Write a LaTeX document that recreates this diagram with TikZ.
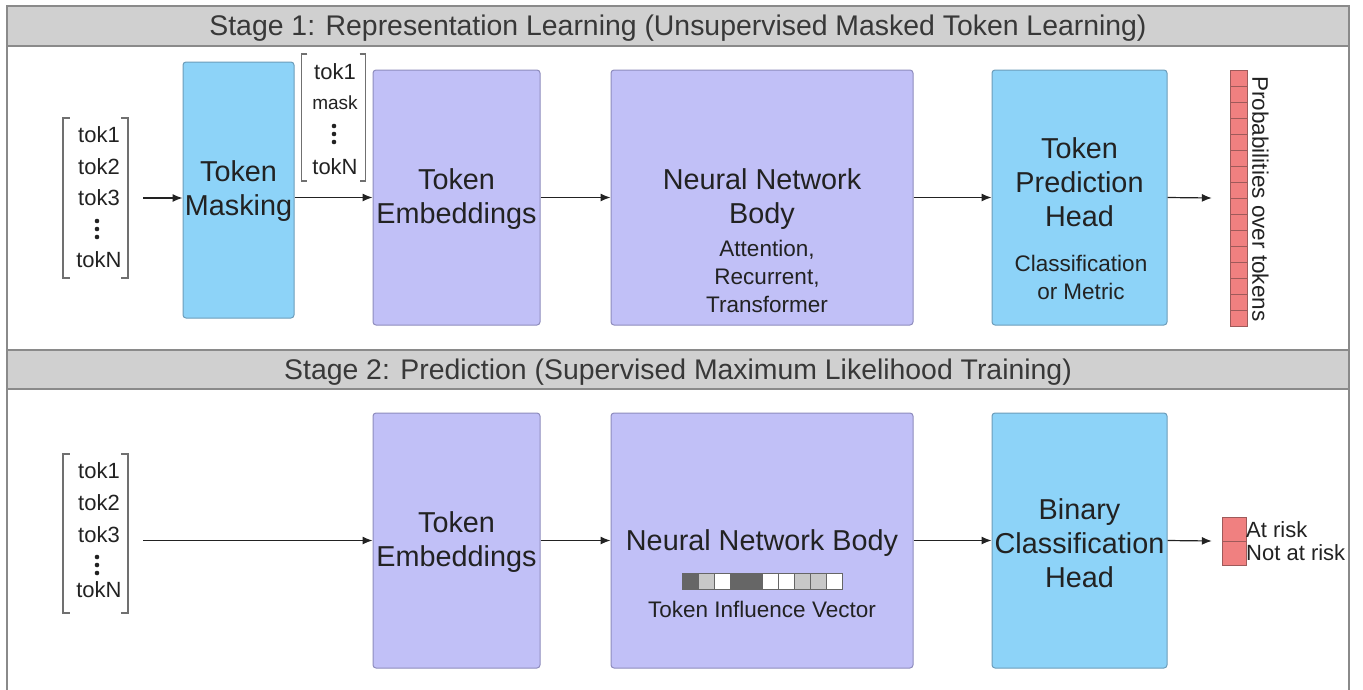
\documentclass[tikz,border=0pt]{standalone}
\usepackage{fontspec}
\setmainfont{Liberation Sans}
\usetikzlibrary{arrows.meta}
\definecolor{hdrf}{HTML}{D0D0D0}
\definecolor{hdrd}{HTML}{8A8A8A}
\definecolor{bluef}{HTML}{8DD3F8}
\definecolor{blued}{HTML}{6C9DBA}
\definecolor{purf}{HTML}{C1C0F7}
\definecolor{purd}{HTML}{8E8CBD}
\definecolor{pinkf}{HTML}{F08080}
\definecolor{pinkd}{HTML}{9E5A5A}
\definecolor{brk}{HTML}{707070}
\definecolor{txt}{HTML}{222222}
\definecolor{dk}{HTML}{666666}
\definecolor{lt}{HTML}{C8C8C8}
\begin{document}
\begin{tikzpicture}[x=1pt,y=-1pt,
  bigtxt/.style={font=\fontsize{28.8}{34}\selectfont, align=center, inner sep=0pt, text=txt},
  hdrtxt/.style={font=\fontsize{28.4}{32}\selectfont, inner sep=0pt, text=txt!90},
  smalltxt/.style={font=\fontsize{22.5}{28}\selectfont, align=center, inner sep=0pt, text=txt},
  toktxt/.style={font=\fontsize{22}{24}\selectfont, inner sep=0pt, text=txt},
  masktxt/.style={font=\fontsize{19}{22}\selectfont, inner sep=0pt, text=txt},
  bluebox/.style={draw=blued, fill=bluef, rounded corners=3pt, line width=1pt},
  purbox/.style={draw=purd, fill=purf, rounded corners=3pt, line width=1pt},
  hdrbox/.style={draw=hdrd, fill=hdrf, line width=1.5pt, inner sep=0pt},
  vecbox/.style={inner sep=0pt},
  brkline/.style={draw=brk, line width=1.5pt},
  arr/.style={-{Latex[length=10pt,width=8pt]}, line width=1.2pt, draw=txt},
  cell/.style={draw=black!60, line width=0.6pt},
  pcell/.style={draw=pinkd, fill=pinkf, line width=0.8pt}]
\useasboundingbox (0,0) rectangle (1363,689);
\fill[white] (0,0) rectangle (1363,689);
% frame
\draw[draw=hdrd, line width=1.5pt] (7,720) -- (7,6) -- (1349,6) -- (1349,720);
% headers
\node[hdrbox, minimum width=1342pt, minimum height=40pt] (h1) at (678,26) {};
\node[hdrtxt] (h1t) at (678,28) {Stage 1: Representation Learning (Unsupervised Masked Token Learning)};
\node[hdrbox, minimum width=1342pt, minimum height=39pt] (h2) at (678,369.5) {};
\node[hdrtxt] (h2t) at (678,372) {Stage 2: Prediction (Supervised Maximum Likelihood Training)};

% ---------- Stage 1 ----------
\node[vecbox, minimum width=65pt, minimum height=160pt] (in1) at (95.5,198) {};
\draw[brkline] ([xshift=7pt]in1.north west) -- (in1.north west) -- (in1.south west) -- ([xshift=7pt]in1.south west);
\draw[brkline] ([xshift=-7pt]in1.north east) -- (in1.north east) -- (in1.south east) -- ([xshift=-7pt]in1.south east);
\node[toktxt] (i1a) at (99,135) {tok1};
\node[toktxt] (i1b) at (99,167) {tok2};
\node[toktxt] (i1c) at (99,198) {tok3};
\foreach \yy in {221,229,237} \fill[txt] (97,\yy) circle (2.3pt);
\node[toktxt] (i1n) at (99,260) {tokN};

\node[bluebox, minimum width=111pt, minimum height=256pt] (mask) at (238.5,190) {};
\node[bigtxt] (maskt) at (238.5,191) {Token\\Masking};

\node[vecbox, minimum width=64pt, minimum height=127pt] (mv) at (333.5,117.5) {};
\draw[brkline] ([xshift=6pt]mv.north west) -- (mv.north west) -- (mv.south west) -- ([xshift=6pt]mv.south west);
\draw[brkline] ([xshift=-6pt]mv.north east) -- (mv.north east) -- (mv.south east) -- ([xshift=-6pt]mv.south east);
\node[toktxt] (m1) at (335,72) {tok1};
\node[masktxt] (m2) at (335,103) {mask};
\foreach \yy in {126,134,142} \fill[txt] (334,\yy) circle (2.3pt);
\node[toktxt] (mn) at (335,167) {tokN};

\node[purbox, minimum width=167pt, minimum height=255pt] (emb1) at (456.5,197.5) {};
\node[bigtxt] (emb1t) at (456.5,199.5) {Token\\Embeddings};

\node[purbox, minimum width=302pt, minimum height=255pt] (nn1) at (762,197.5) {};
\node[bigtxt] (nn1t) at (762,199.5) {Neural Network\\Body};
\node[smalltxt] (nn1s) at (767,276.5) {Attention,\\Recurrent,\\Transformer};

\node[bluebox, minimum width=175pt, minimum height=255pt] (hd1) at (1079.5,197.5) {};
\node[bigtxt] (hd1t) at (1079.5,182.5) {Token\\Prediction\\Head};
\node[smalltxt, text depth=0pt] (hd1s) at (1081,277) {Classification\\or Metric};

\node[vecbox, minimum width=17pt, minimum height=256pt] (prob) at (1238.5,198) {};
\foreach \k in {0,...,15} \draw[pcell] (1230,70+16*\k) rectangle (1247,86+16*\k);
\node[smalltxt, rotate=-90] (probt) at (1260.5,199) {Probabilities over tokens};

\draw[arr] ([xshift=15pt]in1.east) -- (in1.east -| mask.west);
\draw[arr] (emb1.west -| mask.east) -- (emb1.west);
\draw[arr] (emb1.east) -- (nn1.west);
\draw[arr] (nn1.east) -- (hd1.west);
\draw[arr] (hd1.east) -- ([xshift=-18pt]prob.west);

% ---------- Stage 2 ----------
\node[vecbox, minimum width=65pt, minimum height=159pt] (in2) at (95.5,533.5) {};
\draw[brkline] ([xshift=7pt]in2.north west) -- (in2.north west) -- (in2.south west) -- ([xshift=7pt]in2.south west);
\draw[brkline] ([xshift=-7pt]in2.north east) -- (in2.north east) -- (in2.south east) -- ([xshift=-7pt]in2.south east);
\node[toktxt] (i2a) at (99,471) {tok1};
\node[toktxt] (i2b) at (99,503) {tok2};
\node[toktxt] (i2c) at (99,535) {tok3};
\foreach \yy in {557,565,573} \fill[txt] (97,\yy) circle (2.3pt);
\node[toktxt] (i2n) at (99,590) {tokN};

\node[purbox, minimum width=167pt, minimum height=255pt] (emb2) at (456.5,540.5) {};
\node[bigtxt] (emb2t) at (456.5,542.5) {Token\\Embeddings};

\node[purbox, minimum width=302pt, minimum height=255pt] (nn2) at (762,540.5) {};
\node[bigtxt] (nn2t) at (762,543) {Neural Network Body};
\foreach \k/\c in {0/dk,1/lt,2/white,3/dk,4/dk,5/white,6/white,7/lt,8/lt,9/white}
  \draw[cell, fill=\c] (682+16*\k,573) rectangle (698+16*\k,589);
\node[smalltxt] (tiv) at (762,609) {Token Influence Vector};

\node[bluebox, minimum width=175pt, minimum height=255pt] (hd2) at (1079.5,540.5) {};
\node[bigtxt] (hd2t) at (1079.5,543) {Binary\\Classification\\Head};

\node[vecbox, minimum width=24pt, minimum height=48pt] (out2) at (1234,541) {};
\draw[pcell] (1222,517) rectangle (1246,541);
\draw[pcell] (1222,541) rectangle (1246,565);
\node[toktxt, anchor=west] (ar) at (1246,530) {At risk};
\node[toktxt, anchor=west] (nar) at (1246,553) {Not at risk};

\draw[arr] ([xshift=15pt]in2.east |- emb2.west) -- (emb2.west);
\draw[arr] (emb2.east) -- (nn2.west);
\draw[arr] (nn2.east) -- (hd2.west);
\draw[arr] (hd2.east) -- ([xshift=-10pt]out2.west);
\end{tikzpicture}
\end{document}
